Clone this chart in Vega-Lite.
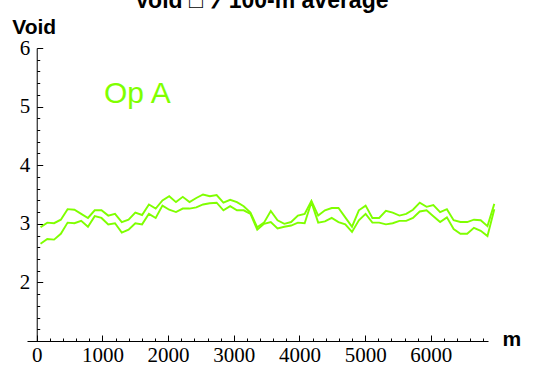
{
  "$schema": "https://vega.github.io/schema/vega-lite/v6.json",
  "autosize": {"type": "none"},
  "padding": {"left": 27, "top": 48, "right": 51, "bottom": 37},
  "width": 461,
  "height": 293,
  "background": "white",
  "title": {"text": "Void □ ⁊ 100-m average", "font": "Liberation Sans", "fontSize": 23, "fontWeight": "bold", "color": "black", "frame": "group", "anchor": "middle", "baseline": "alphabetic", "offset": 8, "dx": 4, "dy": 23},
  "config": {
    "view": {"stroke": null},
    "axis": {"grid": false, "domainColor": "black", "tickColor": "black", "labelColor": "black", "labelFlush": false, "labelOverlap": false, "titleColor": "black", "domainWidth": 1, "tickWidth": 1}
  },
  "resolve": {"axis": {"x": "independent", "y": "independent"}},
  "layer": [
    {
      "data": {"values": [
        {"m":58,"v":2.94,"s":"a"},{"m":161,"v":3.02,"s":"a"},{"m":264,"v":3.01,"s":"a"},{"m":367,"v":3.07,"s":"a"},{"m":470,"v":3.25,"s":"a"},{"m":574,"v":3.24,"s":"a"},{"m":677,"v":3.17,"s":"a"},{"m":780,"v":3.10,"s":"a"},{"m":883,"v":3.23,"s":"a"},{"m":986,"v":3.23,"s":"a"},
        {"m":1089,"v":3.14,"s":"a"},{"m":1192,"v":3.17,"s":"a"},{"m":1295,"v":3.03,"s":"a"},{"m":1398,"v":3.07,"s":"a"},{"m":1501,"v":3.19,"s":"a"},{"m":1604,"v":3.15,"s":"a"},{"m":1708,"v":3.33,"s":"a"},{"m":1811,"v":3.26,"s":"a"},{"m":1914,"v":3.40,"s":"a"},{"m":2017,"v":3.47,"s":"a"},
        {"m":2120,"v":3.37,"s":"a"},{"m":2223,"v":3.46,"s":"a"},{"m":2326,"v":3.37,"s":"a"},{"m":2429,"v":3.44,"s":"a"},{"m":2532,"v":3.50,"s":"a"},{"m":2635,"v":3.47,"s":"a"},{"m":2739,"v":3.49,"s":"a"},{"m":2842,"v":3.36,"s":"a"},{"m":2945,"v":3.41,"s":"a"},{"m":3048,"v":3.37,"s":"a"},
        {"m":3151,"v":3.30,"s":"a"},{"m":3254,"v":3.19,"s":"a"},{"m":3357,"v":2.94,"s":"a"},{"m":3460,"v":3.02,"s":"a"},{"m":3563,"v":3.22,"s":"a"},{"m":3666,"v":3.06,"s":"a"},{"m":3769,"v":3.00,"s":"a"},{"m":3873,"v":3.03,"s":"a"},{"m":3976,"v":3.14,"s":"a"},{"m":4079,"v":3.17,"s":"a"},
        {"m":4182,"v":3.39,"s":"a"},{"m":4285,"v":3.14,"s":"a"},{"m":4388,"v":3.23,"s":"a"},{"m":4491,"v":3.27,"s":"a"},{"m":4594,"v":3.27,"s":"a"},{"m":4697,"v":3.11,"s":"a"},{"m":4800,"v":2.95,"s":"a"},{"m":4904,"v":3.23,"s":"a"},{"m":5007,"v":3.31,"s":"a"},{"m":5110,"v":3.10,"s":"a"},
        {"m":5213,"v":3.10,"s":"a"},{"m":5316,"v":3.22,"s":"a"},{"m":5419,"v":3.19,"s":"a"},{"m":5522,"v":3.14,"s":"a"},{"m":5625,"v":3.17,"s":"a"},{"m":5728,"v":3.24,"s":"a"},{"m":5831,"v":3.36,"s":"a"},{"m":5935,"v":3.29,"s":"a"},{"m":6038,"v":3.32,"s":"a"},{"m":6141,"v":3.20,"s":"a"},
        {"m":6244,"v":3.25,"s":"a"},{"m":6347,"v":3.06,"s":"a"},{"m":6450,"v":3.03,"s":"a"},{"m":6553,"v":3.03,"s":"a"},{"m":6656,"v":3.07,"s":"a"},{"m":6759,"v":3.06,"s":"a"},{"m":6862,"v":2.96,"s":"a"},{"m":6966,"v":3.34,"s":"a"},
        {"m":58,"v":2.66,"s":"b"},{"m":161,"v":2.74,"s":"b"},{"m":264,"v":2.73,"s":"b"},{"m":367,"v":2.83,"s":"b"},{"m":470,"v":3.02,"s":"b"},{"m":574,"v":3.01,"s":"b"},{"m":677,"v":3.05,"s":"b"},{"m":780,"v":2.95,"s":"b"},{"m":883,"v":3.13,"s":"b"},{"m":986,"v":3.10,"s":"b"},
        {"m":1089,"v":2.99,"s":"b"},{"m":1192,"v":3.01,"s":"b"},{"m":1295,"v":2.85,"s":"b"},{"m":1398,"v":2.90,"s":"b"},{"m":1501,"v":3.01,"s":"b"},{"m":1604,"v":2.99,"s":"b"},{"m":1708,"v":3.17,"s":"b"},{"m":1811,"v":3.10,"s":"b"},{"m":1914,"v":3.31,"s":"b"},{"m":2017,"v":3.24,"s":"b"},
        {"m":2120,"v":3.20,"s":"b"},{"m":2223,"v":3.26,"s":"b"},{"m":2326,"v":3.26,"s":"b"},{"m":2429,"v":3.28,"s":"b"},{"m":2532,"v":3.33,"s":"b"},{"m":2635,"v":3.35,"s":"b"},{"m":2739,"v":3.36,"s":"b"},{"m":2842,"v":3.23,"s":"b"},{"m":2945,"v":3.30,"s":"b"},{"m":3048,"v":3.23,"s":"b"},
        {"m":3151,"v":3.23,"s":"b"},{"m":3254,"v":3.17,"s":"b"},{"m":3357,"v":2.90,"s":"b"},{"m":3460,"v":3.00,"s":"b"},{"m":3563,"v":3.03,"s":"b"},{"m":3666,"v":2.92,"s":"b"},{"m":3769,"v":2.95,"s":"b"},{"m":3873,"v":2.97,"s":"b"},{"m":3976,"v":3.02,"s":"b"},{"m":4079,"v":3.01,"s":"b"},
        {"m":4182,"v":3.37,"s":"b"},{"m":4285,"v":3.02,"s":"b"},{"m":4388,"v":3.04,"s":"b"},{"m":4491,"v":3.10,"s":"b"},{"m":4594,"v":3.03,"s":"b"},{"m":4697,"v":2.99,"s":"b"},{"m":4800,"v":2.86,"s":"b"},{"m":4904,"v":3.06,"s":"b"},{"m":5007,"v":3.17,"s":"b"},{"m":5110,"v":3.02,"s":"b"},
        {"m":5213,"v":3.02,"s":"b"},{"m":5316,"v":2.99,"s":"b"},{"m":5419,"v":3.01,"s":"b"},{"m":5522,"v":3.05,"s":"b"},{"m":5625,"v":3.05,"s":"b"},{"m":5728,"v":3.10,"s":"b"},{"m":5831,"v":3.21,"s":"b"},{"m":5935,"v":3.23,"s":"b"},{"m":6038,"v":3.13,"s":"b"},{"m":6141,"v":3.03,"s":"b"},
        {"m":6244,"v":3.11,"s":"b"},{"m":6347,"v":2.91,"s":"b"},{"m":6450,"v":2.83,"s":"b"},{"m":6553,"v":2.83,"s":"b"},{"m":6656,"v":2.93,"s":"b"},{"m":6759,"v":2.88,"s":"b"},{"m":6862,"v":2.79,"s":"b"},{"m":6966,"v":3.25,"s":"b"}
      ]},
      "mark": {"type": "line", "color": "#7FFF00", "strokeWidth": 1.9, "clip": false},
      "encoding": {
        "x": {"field": "m", "type": "quantitative", "scale": {"domain": [-148, 6870], "nice": false, "zero": false},
          "axis": {"orient": "bottom", "values": [0,1000,2000,3000,4000,5000,6000], "format": "d", "tickSize": -6, "labelPadding": 9, "labelBaseline": "top", "labelFont": "Liberation Serif", "labelFontSize": 21, "labelFontWeight": "normal", "title": "m", "titleFont": "Liberation Sans", "titleFontSize": 21, "titleFontWeight": "bold", "titleX": 475, "titleY": 4, "titleAlign": "left", "titleBaseline": "alphabetic", "titleAngle": 0}},
        "y": {"field": "v", "type": "quantitative", "scale": {"domain": [1, 6], "nice": false, "zero": false},
          "axis": {"orient": "left", "offset": -9.72, "values": [2,3,4,5,6], "format": "d", "tickSize": -6, "labelPadding": 13, "labelAlign": "right", "labelBaseline": "middle", "labelFont": "Liberation Serif", "labelFontSize": 21, "labelFontWeight": "normal", "title": "Void", "titleFont": "Liberation Sans", "titleFontSize": 21, "titleFontWeight": "bold", "titleAngle": 0, "titleX": -25, "titleY": -15, "titleAlign": "left", "titleBaseline": "alphabetic"}},
        "detail": {"field": "s", "type": "nominal"}
      }
    },
    {
      "data": {"values": [{"m": 1024, "v": 5.06, "label": "Op A"}]},
      "mark": {"type": "text", "color": "#7FFF00", "font": "Liberation Sans", "fontSize": 30, "align": "left", "baseline": "alphabetic"},
      "encoding": {
        "x": {"field": "m", "type": "quantitative",
          "axis": {"orient": "bottom", "values": [0,200,400,600,800,1000,1200,1400,1600,1800,2000,2200,2400,2600,2800,3000,3200,3400,3600,3800,4000,4200,4400,4600,4800,5000,5200,5400,5600,5800,6000,6200,6400,6600,6800], "tickSize": -3, "labels": false, "domain": false, "title": null}},
        "y": {"field": "v", "type": "quantitative",
          "axis": {"orient": "left", "offset": -9.72, "values": [1.2,1.4,1.6,1.8,2.2,2.4,2.6,2.8,3.2,3.4,3.6,3.8,4.2,4.4,4.6,4.8,5.2,5.4,5.6,5.8], "tickSize": -3, "labels": false, "domain": false, "title": null}},
        "text": {"field": "label", "type": "nominal"}
      }
    }
  ]
}
